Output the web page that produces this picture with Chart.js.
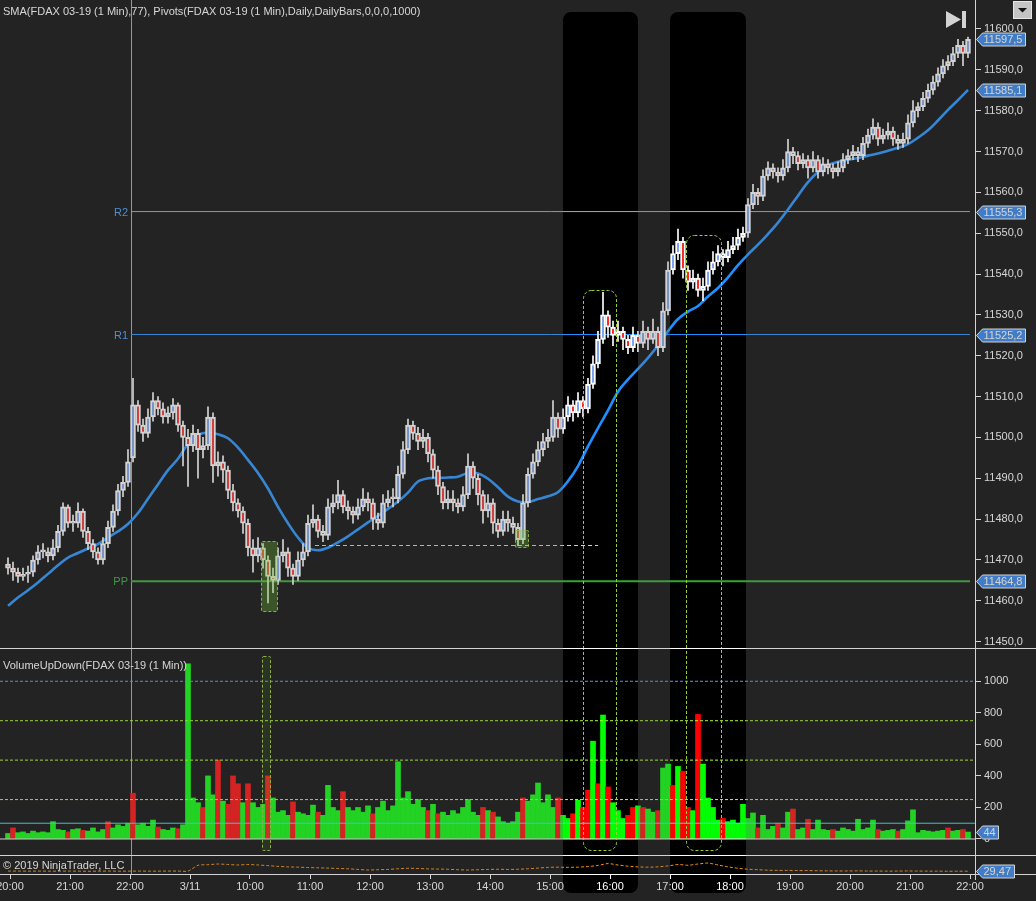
<!DOCTYPE html>
<html>
<head>
<meta charset="utf-8">
<title>FDAX 03-19 (1 Min)</title>
<script src="https://cdn.jsdelivr.net/npm/chart.js@4/dist/chart.umd.min.js"></script>
<style>
  html, body { margin: 0; padding: 0; background: #000; }
  body { width: 1036px; height: 901px; position: relative; overflow: hidden; }
  canvas { position: absolute; left: 0; display: block; }
</style>
</head>
<body>
<canvas id="price" width="1036" height="648" style="top:0"></canvas>
<canvas id="volume" width="1036" height="207" style="top:648px"></canvas>
<canvas id="indicator" width="1036" height="46" style="top:855px"></canvas>
<script>
// 5 minute bars, minute 0 = 20:00 on 3/8
const barStart = -2;
const barStep = 5;
const open = [
  11469,11468,11467,11466,11466.5,11467,11470,11472,11472,11471,
  11473,11477,11483,11479,11479,11482,11477,11474,11472,11470,
  11474,11478,11482,11487,11489,11495,11508,11503,11501,11505,
  11509,11507,11505,11506,11508,11503,11500,11498,11501,11497,
  11498,11505,11493,11494,11492,11487,11484,11482,11479,11473,
  11471,11473,11470,11466,11465,11471,11472,11468,11466,11470,
  11472,11479,11480,11477,11476,11483,11484,11486,11483,11482,
  11481,11483,11485,11484,11480,11479,11484,11485,11485,11491,
  11497,11503,11501,11499,11500,11496,11492,11488,11484,11485,
  11484,11483,11486,11493,11490,11486,11482,11484,11479,11477,
  11480,11479,11478,11475,11484,11491,11494,11497,11499,11500,
  11505,11502,11505,11508,11506,11509,11507,11513,11518,11524,
  11530,11527,11525,11526,11524,11522,11525,11523,11526,11524,
  11526,11522,11531,11541,11545,11548,11541,11538,11539,11536,
  11537,11541,11543,11545,11544,11546,11547,11549,11550,11557,
  11560,11559,11564,11566,11565,11564,11566,11570,11569,11567,
  11568,11566,11568,11565,11567,11566,11565,11566,11568,11569,
  11570,11569,11572,11574,11576,11573,11574,11575,11573,11572,
  11573,11577,11580,11581,11583,11585,11587,11589,11591,11592,
  11594,11596,11594
];
const high = [
  11470.5,11469.5,11468,11468,11468.5,11471,11473.5,11474,11473,11475,
  11478.5,11484,11483.5,11481,11484,11482.5,11478,11475,11473,11475.5,
  11479.5,11483.5,11488.5,11490.5,11497,11514.5,11509,11504.5,11507,11511,
  11510,11508.5,11507.5,11509.5,11508.5,11504,11502,11503,11502,11500,
  11507.5,11506,11496.5,11495.5,11493,11488.5,11485,11483,11480,11475,
  11475.5,11474,11471,11468,11473,11475,11473,11469,11472,11474,
  11481,11483.5,11481,11478.5,11485,11486,11489.5,11487,11484.5,11483,
  11485,11487.5,11486.5,11485,11481.5,11486,11487,11487.5,11493,11499,
  11504.5,11504,11502.5,11502,11501,11497,11493,11489,11487,11487,
  11485,11488,11496,11494,11491,11487,11486,11485,11480,11482,
  11482,11480.5,11479,11486,11492.5,11496,11499,11501,11502,11509,
  11506,11507,11510,11509,11511,11510,11514.5,11520,11526,11535.5,
  11531,11528.5,11528.5,11527,11525,11527,11526,11528.5,11527,11529,
  11527,11533,11543,11547,11551,11549,11542,11541,11540,11539,
  11543,11545.5,11547,11546,11548,11549,11551,11551.5,11558.5,11562,
  11561,11565.5,11567.5,11567,11566,11568,11573,11571,11570,11569.5,
  11569,11570,11569,11568.5,11568,11567,11567.5,11569.5,11570.5,11571.5,
  11571,11573.5,11575.5,11578,11577,11575.5,11577,11576,11574,11574.5,
  11579,11582.5,11582,11584.5,11586.5,11588.5,11590.5,11592.5,11593.5,11595.5,
  11597.5,11597,11598
];
const low = [
  11466.5,11465,11464.5,11465,11464.5,11466,11469,11470.5,11469.5,11470,
  11472,11476,11478,11477,11478,11475.5,11472.5,11470.5,11469,11469,
  11473,11477,11481,11485.5,11488,11494,11501.5,11499,11500,11504,
  11505.5,11503.5,11503.5,11504.5,11501.5,11493,11488,11496.5,11490,11495,
  11497,11489,11490.5,11489,11485,11482,11480.5,11476.5,11471,11467,
  11469.5,11468,11459.5,11462,11464,11469.5,11466,11464,11465,11468.5,
  11471,11478,11475.5,11474.5,11475,11481.5,11482.5,11481.5,11480,11479,
  11480,11482,11482,11477.5,11477.5,11478,11483,11483,11484,11490,
  11496,11499.5,11497,11497.5,11494,11490,11486,11482.5,11482.5,11482,
  11481.5,11482,11485,11487.5,11483.5,11479,11480.5,11476.5,11475.5,11476,
  11477,11476.5,11473.5,11474,11483,11490,11493,11495.5,11497.5,11499,
  11500,11501,11504,11504,11505,11505,11506,11512,11517,11523,
  11524.5,11522.5,11523.5,11521.5,11520.5,11521,11521,11522,11521.5,11523,
  11520,11521,11530,11540,11543.5,11539,11536,11536.5,11534.5,11533.5,
  11536,11540,11542,11542,11543,11545,11546,11548,11549,11556,
  11557,11558,11563,11563.5,11562.5,11563,11565,11567,11565.5,11566,
  11563.5,11565,11563.5,11564,11564.5,11563.5,11564,11565,11567,11568,
  11567.5,11568,11571,11573,11571.5,11572,11573,11571.5,11570.5,11571,
  11572,11576,11578.5,11580,11582,11584,11586,11588,11590,11591,
  11593,11591,11593
];
const close = [
  11468,11467,11466,11466.5,11467,11470,11472,11472,11471,11473,
  11477,11483,11479,11479,11482,11477,11474,11472,11470,11474,
  11478,11482,11487,11489,11494,11508,11503,11501,11505,11509,
  11507,11505,11506,11508,11503,11500,11498,11501,11497,11498,
  11505,11493,11494,11492,11487,11484,11482,11479,11473,11471,
  11473,11470,11466,11465,11471,11472,11468,11466,11470,11472,
  11479,11480,11477,11476,11483,11484,11486,11483,11482,11481,
  11483,11485,11484,11480,11479,11484,11485,11485,11491,11497,
  11503,11501,11499,11500,11496,11492,11488,11484,11485,11484,
  11483,11486,11493,11490,11486,11482,11484,11479,11477,11480,
  11479,11478,11475,11484,11491,11494,11497,11499,11500,11505,
  11502,11505,11508,11506,11509,11507,11513,11518,11524,11530,
  11527,11525,11526,11524,11522,11525,11523,11526,11524,11526,
  11522,11531,11541,11545,11548,11541,11538,11539,11536,11537,
  11541,11543,11545,11544,11546,11547,11549,11550,11557,11560,
  11559,11564,11566,11565,11564,11566,11570,11569,11567,11568,
  11566,11568,11565,11567,11566,11565,11566,11568,11569,11570,
  11569,11572,11574,11576,11573,11574,11575,11573,11572,11573,
  11577,11580,11581,11583,11585,11587,11589,11591,11592,11594,
  11596,11594,11597.5
];
const volume = [
  35,70,40,45,35,50,40,45,40,110,
  60,55,45,60,65,55,50,70,45,60,
  110,70,90,80,100,290,90,100,80,120,
  75,60,55,70,65,90,1110,260,230,200,
  400,280,500,240,220,400,350,230,350,230,
  200,220,400,260,170,180,150,235,170,160,
  150,215,170,150,340,200,180,300,200,180,
  200,170,210,160,200,240,180,210,490,260,
  300,220,250,200,180,220,160,170,150,180,
  160,200,250,170,150,200,180,170,140,110,
  100,110,170,260,240,280,355,230,280,200,
  260,150,130,160,245,200,310,620,350,786,
  330,230,180,130,150,200,210,200,190,170,
  180,450,475,340,460,430,200,180,790,475,
  260,200,120,130,110,120,100,220,130,165,
  70,150,60,80,100,70,170,190,60,70,
  125,60,120,60,55,60,50,70,60,50,
  125,60,70,120,60,50,55,60,50,60,
  115,185,40,55,50,45,50,55,70,50,
  55,60,44
];
// g = up volume, r = down volume
const volDir =
  'grgggggggg' + 'ggrggrgggg' + 'rggggrgggg' + 'rgggrggggr' + 'ggrgrrrgrg' +
  'ggrggggrgg' + 'ggrggggrgg' + 'gggrgggggg' + 'ggggrgrggg' + 'gggggrgrgg' +
  'gggrgggggg' + 'rggrgrrgrg' + 'rgggrrgrgg' + 'rggrgrrgrg' + 'gggrgggggg' +
  'rgggrggrgg' + 'rggggrgggg' + 'ggggrgggrg' + 'ggggggggrg' + 'grg';

// SMA(77) and the lower volume average, read every 10 minutes
const lineStart = -2;
const lineStep = 10;
const sma77 = [
  11458.8,11460.8,11462.6,11464.5,11466.6,11468.7,11470.6,11471.7,11472.8,11473.9,
  11475.5,11477,11478.8,11481.5,11485,11488.5,11492,11494.8,11498.4,11500.6,
  11501.2,11500.8,11499.8,11497.5,11494.5,11491.3,11487.5,11483,11479,11475.5,
  11473,11472.4,11473,11474.3,11475.8,11477.5,11479.2,11480.8,11482.5,11484.3,
  11486.5,11489.2,11490,11490.1,11490.2,11490.4,11491.3,11491.2,11489.9,11487.8,
  11485.5,11484.3,11484.2,11484.9,11485.6,11486.6,11489.3,11493,11497.8,11502.3,
  11506.6,11511.2,11514.2,11516.8,11519.5,11522.5,11526,11529,11530.8,11532.2,
  11534.5,11536.6,11539.2,11542.2,11544.8,11547.2,11549.8,11552.6,11555.8,11559.2,
  11562.5,11565,11566.7,11567.5,11568,11568.4,11569,11569.5,11570.2,11570.9,
  11571.8,11573.4,11575.2,11577.6,11580.2,11582.6,11585.1
];
const volAvg = [
  31,31,30,31,30,30,31,30,29,30,31,30,30,31,30,30,31,31,30,
  92,98,105,100,95,100,95,88,80,75,72,
  68,65,62,58,55,48,42,45,48,55,
  60,58,54,52,50,45,42,45,48,50,
  48,50,55,62,70,72,70,72,78,90,
  110,95,82,75,72,75,85,100,92,105,
  115,95,75,60,50,45,40,38,38,36,
  36,34,33,32,32,33,31,31,30,31,
  32,31,30,30,29,29.5,29.47
];

const pivotNames = ['R2', 'R1', 'PP'];
const pivotValues = [11555.3, 11525.2, 11464.8];
const volLevels = [1000, 750, 500, 250, 100, 0];
const timeLabels = ['20:00','21:00','22:00','3/11','10:00','11:00','12:00','13:00','14:00',
                    '15:00','16:00','17:00','18:00','19:00','20:00','21:00','22:00'];
const timeTicks = [0,60,120,180,240,300,360,420,480,540,600,660,720,780,840,900,960];

// drawn regions (minutes / price / volume)
const sessionBreak = 121;
const lastBar = 960;
const bandFrom = [553, 660];
const bandTo = [628, 736];
const smallBoxes = [[251, 267, 11474.7, 11457.5], [505, 518, 11477.4, 11473.2]];
const tallBoxes = [[573, 606, 11536.1, -70], [676, 711, 11549.6, -70]];
const volBoxes = [[252, 260, 1160, -70]];
const dashLine = [305, 588, 11473.7];

// ---------------------------------------------------------------
const FONT = '"Liberation Sans", Arial, sans-serif';
Chart.defaults.font.family = FONT;
Chart.defaults.font.size = 11;
Chart.defaults.color = '#ffffff';
Chart.defaults.animation = false;
Chart.defaults.events = [];
Chart.defaults.plugins.legend.display = false;
Chart.defaults.plugins.tooltip.enabled = false;

const X_MIN = -10, X_MAX = 965;
const SHADE = 'rgba(113,113,113,0.31)';
const UP = '#6495ed', DOWN = '#ff0000';
const VOL_UP = '#00ff00', VOL_DOWN = '#ff0000';
const BOX = '#9acd32';

const barX = i => barStart + i * barStep;
const lineX = i => lineStart + i * lineStep;
const fmt = (v, d) => v.toFixed(d).replace('.', ',');

function xAxis(show) {
  return {
    type: 'linear', min: X_MIN, max: X_MAX, offset: false, display: show,
    afterBuildTicks: s => { s.ticks = timeTicks.map(v => ({ value: v })); },
    afterFit: s => { s.paddingLeft = 0; s.paddingRight = 0; if (show) s.height = 27; },
    ticks: { autoSkip: false, maxRotation: 0, padding: 1, color: '#ffffff',
             callback: (v, i) => timeLabels[i] },
    grid: { offset: false, drawOnChartArea: false, color: '#ffffff', tickLength: 5 },
    border: { display: false }
  };
}

function yAxis(min, max, step, keep, label, show) {
  return {
    position: 'right', min, max,
    afterFit: s => { s.width = 61; s.paddingTop = 0; s.paddingBottom = 0; },
    afterBuildTicks: s => { s.ticks = s.ticks.filter(t => keep(t.value)); },
    ticks: { display: show, stepSize: step, maxTicksLimit: 100, autoSkip: false, padding: 3,
             color: '#ffffff', callback: label, includeBounds: false },
    grid: { display: show, drawOnChartArea: false, color: '#ffffff', tickLength: 6 },
    border: { display: false }
  };
}

function shade(chart, top) {
  const ctx = chart.ctx, x = chart.scales.x;
  ctx.save();
  ctx.beginPath();
  ctx.rect(0, 0, chart.width, chart.height);
  bandFrom.forEach((f, i) => {
    const x0 = Math.round(x.getPixelForValue(f));
    const x1 = Math.round(x.getPixelForValue(bandTo[i]));
    ctx.roundRect(x0, 12 - top, x1 - x0, 881, 8);
  });
  ctx.fillStyle = SHADE;
  ctx.fill('evenodd');
  ctx.restore();
}

function vLine(ctx, x, y0, y1, color) {
  ctx.save();
  ctx.strokeStyle = color;
  ctx.lineWidth = 1;
  ctx.beginPath();
  ctx.moveTo(Math.round(x) + 0.5, y0);
  ctx.lineTo(Math.round(x) + 0.5, y1);
  ctx.stroke();
  ctx.restore();
}

function hLine(ctx, y, x0, x1, color) {
  ctx.save();
  ctx.strokeStyle = color;
  ctx.lineWidth = 1;
  ctx.beginPath();
  ctx.moveTo(x0, Math.round(y) + 0.5);
  ctx.lineTo(x1, Math.round(y) + 0.5);
  ctx.stroke();
  ctx.restore();
}

function dashedBox(ctx, x0, y0, x1, y1, r, fill) {
  ctx.save();
  ctx.beginPath();
  ctx.roundRect(Math.round(x0) + 0.5, Math.round(y0) + 0.5, Math.round(x1 - x0), Math.round(y1 - y0), r);
  if (fill) { ctx.fillStyle = fill; ctx.fill(); }
  ctx.setLineDash([3, 2]);
  ctx.strokeStyle = BOX;
  ctx.lineWidth = 1;
  ctx.stroke();
  ctx.restore();
}

function tag(ctx, y, text) {
  ctx.save();
  ctx.font = '11px ' + FONT;
  const w = ctx.measureText(text).width;
  const x0 = 976.5, x1 = Math.round(983 + w + 3) + 0.5, h = 13, yy = Math.round(y) + 0.5;
  ctx.beginPath();
  ctx.moveTo(x0, yy);
  ctx.lineTo(x0 + 6, yy - h / 2);
  ctx.lineTo(x1, yy - h / 2);
  ctx.lineTo(x1, yy + h / 2);
  ctx.lineTo(x0 + 6, yy + h / 2);
  ctx.closePath();
  ctx.fillStyle = '#2a82ee';
  ctx.fill();
  ctx.strokeStyle = '#ffffff';
  ctx.lineWidth = 1;
  ctx.stroke();
  ctx.fillStyle = '#ffffff';
  ctx.textBaseline = 'middle';
  ctx.textAlign = 'left';
  ctx.fillText(text, 983.5, yy + 0.5);
  ctx.restore();
}

function label(ctx, text, x, y, color, align) {
  ctx.save();
  ctx.font = '11px ' + FONT;
  ctx.fillStyle = color;
  ctx.textBaseline = 'middle';
  ctx.textAlign = align || 'left';
  ctx.fillText(text, x, y);
  ctx.restore();
}

// ---------------- price panel ----------------
const pivotColors = ['#a8a8a8', '#1e90ff', '#2fa82f'];
const pivotWidths = [1, 1, 2];
const pivotTextColors = ['#3d9bff', '#3d9bff', '#2fa82f'];

const pricePanel = {
  id: 'pricePanel',
  beforeDatasetsDraw(chart) {
    vLine(chart.ctx, chart.scales.x.getPixelForValue(sessionBreak), 0, chart.height, '#a8a8a8');
  },
  afterDatasetsDraw(chart) {
    const { ctx, scales: { x, y } } = chart;
    smallBoxes.forEach(b => dashedBox(ctx, x.getPixelForValue(b[0]), y.getPixelForValue(b[2]),
      x.getPixelForValue(b[1]), y.getPixelForValue(b[3]), 1, 'rgba(120,240,25,0.3)'));
    tallBoxes.forEach(b => dashedBox(ctx, x.getPixelForValue(b[0]), y.getPixelForValue(b[2]),
      x.getPixelForValue(b[1]), chart.height + 20, 8));
    ctx.save();
    ctx.setLineDash([4, 3]);
    ctx.strokeStyle = '#adff2f';
    ctx.beginPath();
    const dy = Math.round(y.getPixelForValue(dashLine[2])) + 0.5;
    ctx.moveTo(x.getPixelForValue(dashLine[0]), dy);
    ctx.lineTo(x.getPixelForValue(dashLine[1]), dy);
    ctx.stroke();
    ctx.restore();

    pivotNames.forEach((n, i) => label(ctx, n, x.getPixelForValue(sessionBreak) - 3,
      y.getPixelForValue(pivotValues[i]) + 1, pivotTextColors[i], 'right'));

    label(ctx, 'SMA(FDAX 03-19 (1 Min),77), Pivots(FDAX 03-19 (1 Min),Daily,DailyBars,0,0,0,1000)', 3, 12, '#ffffff');
    vLine(ctx, 975, 0, chart.height, '#ffffff');

    tag(ctx, y.getPixelForValue(close[close.length - 1]), fmt(close[close.length - 1], 1));
    tag(ctx, y.getPixelForValue(sma77[sma77.length - 1]), fmt(sma77[sma77.length - 1], 1));
    pivotValues.forEach(v => tag(ctx, y.getPixelForValue(v), fmt(v, 1)));

    // "go to end" icon
    ctx.save();
    ctx.fillStyle = '#ffffff';
    ctx.beginPath();
    ctx.moveTo(946, 11); ctx.lineTo(961, 19.5); ctx.lineTo(946, 28); ctx.closePath();
    ctx.fill();
    ctx.fillRect(962, 11, 4, 17);
    ctx.restore();
  },
  afterDraw(chart) {
    shade(chart, 0);
    const ctx = chart.ctx;
    ctx.save();
    ctx.fillStyle = '#c4c4c4';
    ctx.fillRect(1013, 1, 19, 18);
    ctx.strokeStyle = '#e6e6e6';
    ctx.strokeRect(1013.5, 1.5, 18, 17);
    ctx.fillStyle = '#111111';
    ctx.beginPath();
    ctx.moveTo(1018, 8); ctx.lineTo(1027, 8); ctx.lineTo(1022.5, 12.5); ctx.closePath();
    ctx.fill();
    ctx.restore();
  }
};

new Chart(document.getElementById('price'), {
  type: 'bar',
  data: {
    datasets: [
      ...pivotNames.map((n, i) => ({
        type: 'line', label: n, order: 6,
        data: [{ x: sessionBreak, y: pivotValues[i] }, { x: lastBar, y: pivotValues[i] }],
        borderColor: pivotColors[i], borderWidth: pivotWidths[i], pointRadius: 0
      })),
      {
        type: 'line', label: 'SMA', order: 5,
        data: sma77.map((v, i) => ({ x: lineX(i), y: v })),
        borderColor: '#1e90ff', borderWidth: 2.6, pointRadius: 0, tension: 0.35
      },
      {
        label: 'wick', order: 2, grouped: false, barThickness: 1,
        data: close.map((c, i) => ({ x: barX(i), y: [low[i], high[i]] })),
        backgroundColor: '#ffffff'
      },
      {
        label: 'body', order: 1, grouped: false, barThickness: 5, minBarLength: 2,
        data: close.map((c, i) => ({ x: barX(i), y: [open[i], c] })),
        backgroundColor: close.map((c, i) => c >= open[i] ? UP : DOWN),
        borderColor: '#ffffff', borderWidth: 2, borderSkipped: false
      }
    ]
  },
  options: {
    responsive: false,
    layout: { padding: 0 },
    scales: {
      x: xAxis(false),
      y: yAxis(11448.45, 11607.1, 10, v => Math.abs(v / 10 - Math.round(v / 10)) < 1e-6, v => fmt(v, 1), true)
    }
  },
  plugins: [pricePanel]
});

// ---------------- volume panel ----------------
const levelColors = ['#6495ed', '#adff2f', '#adff2f', '#adff2f', '#30e8e8', '#ffffff'];
const levelDash = [[3, 2], [3, 2], [3, 2], [3, 2], [], []];

const volumePanel = {
  id: 'volumePanel',
  beforeDatasetsDraw(chart) {
    vLine(chart.ctx, chart.scales.x.getPixelForValue(sessionBreak), 0, chart.height, '#a8a8a8');
  },
  afterDatasetsDraw(chart) {
    const { ctx, scales: { x, y } } = chart;
    tallBoxes.forEach(b => dashedBox(ctx, x.getPixelForValue(b[0]), -20,
      x.getPixelForValue(b[1]), y.getPixelForValue(b[3]), 8));
    volBoxes.forEach(b => dashedBox(ctx, x.getPixelForValue(b[0]), y.getPixelForValue(b[2]),
      x.getPixelForValue(b[1]), y.getPixelForValue(b[3]), 1, 'rgba(120,240,25,0.1)'));
    label(ctx, 'VolumeUpDown(FDAX 03-19 (1 Min))', 3, 18, '#ffffff');
    hLine(ctx, 0, 0, chart.width, '#ffffff');
    vLine(ctx, 975, 0, chart.height, '#ffffff');
    tag(ctx, y.getPixelForValue(volume[volume.length - 1]), String(volume[volume.length - 1]));
  },
  afterDraw(chart) { shade(chart, 648); }
};

new Chart(document.getElementById('volume'), {
  type: 'bar',
  data: {
    datasets: [
      ...volLevels.map((v, i) => ({
        type: 'line', label: 'L' + v, order: 0,
        data: [{ x: X_MIN, y: v }, { x: X_MAX, y: v }],
        borderColor: levelColors[i], borderWidth: 1, borderDash: levelDash[i], pointRadius: 0
      })),
      {
        label: 'volume', order: 1, grouped: false, barThickness: 5,
        data: volume.map((v, i) => ({ x: barX(i), y: v })),
        backgroundColor: volume.map((v, i) => volDir[i] === 'g' ? VOL_UP : VOL_DOWN),
        borderWidth: 0
      }
    ]
  },
  options: {
    responsive: false,
    layout: { padding: 0 },
    scales: {
      x: xAxis(false),
      y: yAxis(-101.5, 1211, 200, v => v >= 0 && v <= 1000 && Math.abs(v / 200 - Math.round(v / 200)) < 1e-6,
               v => String(v), true)
    }
  },
  plugins: [volumePanel]
});

// ---------------- lower indicator + time axis ----------------
const indicatorPanel = {
  id: 'indicatorPanel',
  beforeDatasetsDraw(chart) {
    vLine(chart.ctx, chart.scales.x.getPixelForValue(sessionBreak), 0, chart.chartArea.bottom, '#a8a8a8');
  },
  afterDatasetsDraw(chart) {
    const { ctx, scales: { y } } = chart;
    hLine(ctx, 0, 0, chart.width, '#ffffff');
    hLine(ctx, chart.chartArea.bottom, 0, chart.width, '#ffffff');
    vLine(ctx, 975, 0, chart.chartArea.bottom + 6, '#ffffff');
    label(ctx, '\u00a9 2019 NinjaTrader, LLC', 3, 11, '#ffffff');
    tag(ctx, y.getPixelForValue(volAvg[volAvg.length - 1]), fmt(volAvg[volAvg.length - 1], 2));
  },
  afterDraw(chart) { shade(chart, 855); }
};

new Chart(document.getElementById('indicator'), {
  type: 'line',
  data: {
    datasets: [{
      label: 'avg',
      data: volAvg.map((v, i) => ({ x: lineX(i), y: v })),
      borderColor: '#ff8c00', borderWidth: 1, borderDash: [3, 2], pointRadius: 0, tension: 0.2
    }]
  },
  options: {
    responsive: false,
    layout: { padding: 0 },
    scales: {
      x: xAxis(true),
      y: yAxis(0, 200, 50, () => false, v => '', false)
    }
  },
  plugins: [indicatorPanel]
});
</script>
</body>
</html>
